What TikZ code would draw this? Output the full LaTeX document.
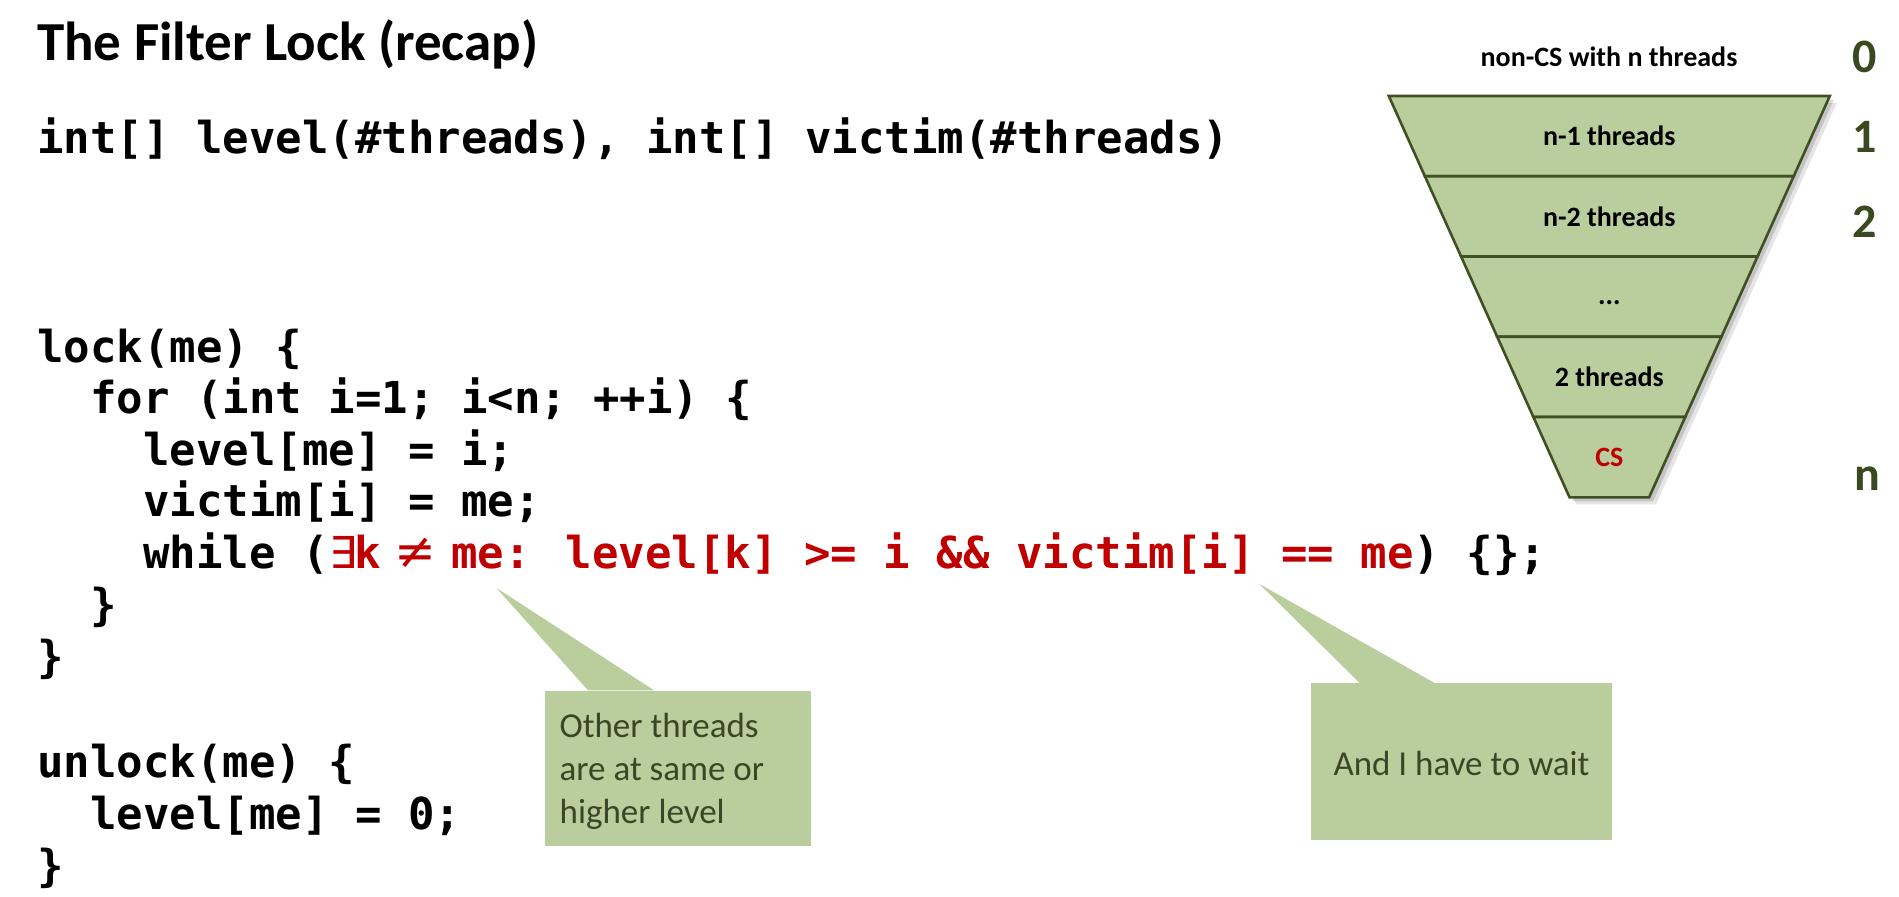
\documentclass[tikz,border=0pt]{standalone}
\usepackage{fontspec}
\setmainfont{Carlito}
\newfontfamily\codefont{DejaVu Sans Mono}
\newfontfamily\mathsymfont{DejaVu Sans}
\usetikzlibrary{calc}
\definecolor{codered}{HTML}{C00000}
\definecolor{calloutfill}{RGB}{185,206,156}
\definecolor{funnelfill}{RGB}{185,206,156}
\definecolor{funneledge}{RGB}{64,80,36}
\definecolor{olivetext}{RGB}{58,70,38}
\definecolor{levelnum}{RGB}{58,74,30}
\begin{document}
\begin{tikzpicture}[x=1pt,y=-1pt,
  code/.style={anchor=base west, inner sep=0pt, font=\codefont\bfseries\fontsize{44}{52}\selectfont},
  titletext/.style={anchor=base west, inner sep=0pt, font=\bfseries\fontsize{55}{62}\selectfont},
  band/.style={fill=funnelfill, draw=funneledge, line width=2.6pt},
  bandlabel/.style={inner sep=0pt, font=\bfseries\fontsize{28}{32}\selectfont},
  levellabel/.style={inner sep=0pt, text=levelnum, font=\bfseries\fontsize{48}{52}\selectfont},
  calloutbox/.style={fill=calloutfill, inner sep=0pt},
  callouttext/.style={inner sep=0pt, text=olivetext, font=\fontsize{35}{43}\selectfont},
]
\useasboundingbox (0,0) rectangle (1899,897);
\fill[white] (0,0) rectangle (1899,897);

% ---------- title and code ----------
\node[titletext] (title) at (37,60) {The Filter Lock (recap)};
\node[code] (decl) at (37,153.3) {int[] level(\#threads), int[] victim(\#threads)};
\node[code] (lock) at (37,362) {lock(me) \{};
\node[code] (forl) at (90,413.5) {for (int i=1; i<n; ++i) \{};
\node[code] (lvl) at (143,465) {level[me] = i;};
\node[code] (vic) at (143,516.7) {victim[i] = me;};
\node[code] (whl) at (143,568.3) {while (\textcolor{codered}{\makebox[122.5pt][l]{\kern1pt{\mdseries\mathsymfont ∃}\kern-3pt k\kern14pt{\mdseries\mathsymfont\fontsize{50}{52}\selectfont ≠}}me: level[k] >= i \&\& victim[i] == me}) \{\};};
\node[code] (cla) at (90,620.2) {\}};
\node[code] (clb) at (37,672.1) {\}};
\node[code] (unl) at (37,777) {unlock(me) \{};
\node[code] (lvz) at (90,829) {level[me] = 0;};
\node[code] (clc) at (37,881) {\}};

% ---------- funnel ----------
\coordinate (l0) at (1388.8,96);    \coordinate (r0) at (1829.8,96);
\coordinate (l1) at (1424.9,176.26); \coordinate (r1) at (1793.7,176.26);
\coordinate (l2) at (1461.1,256.52); \coordinate (r2) at (1757.5,256.52);
\coordinate (l3) at (1497.2,336.78); \coordinate (r3) at (1721.4,336.78);
\coordinate (l4) at (1533.4,417.04); \coordinate (r4) at (1685.2,417.04);
\coordinate (l5) at (1569.5,497.3);  \coordinate (r5) at (1649.1,497.3);

\fill[black, opacity=0.10] ($(l0)+(7,7)$) -- ($(r0)+(7,7)$) -- ($(r5)+(7,7)$) -- ($(l5)+(7,7)$) -- cycle;
\fill[black, opacity=0.14] ($(l0)+(4,4)$) -- ($(r0)+(4,4)$) -- ($(r5)+(4,4)$) -- ($(l5)+(4,4)$) -- cycle;

\draw[band] (l0) -- (r0) -- (r1) -- (l1) -- cycle;
\draw[band] (l1) -- (r1) -- (r2) -- (l2) -- cycle;
\draw[band] (l2) -- (r2) -- (r3) -- (l3) -- cycle;
\draw[band] (l3) -- (r3) -- (r4) -- (l4) -- cycle;
\draw[band] (l4) -- (r4) -- (r5) -- (l5) -- cycle;

\node[bandlabel] (top) at (1609,56.7) {non-CS with n threads};
\node[bandlabel] (b1) at (1609.3,136.1) {n-1 threads};
\node[bandlabel] (b2) at (1609.3,216.4) {n-2 threads};
\node[bandlabel] (b3) at (1609.3,303) {...};
\node[bandlabel] (b4) at (1609.3,376.9) {2 threads};
\node[bandlabel, text=codered] (b5) at (1609.3,457.2) {CS};

\node[levellabel] (d0) at (1865,56.7) {0};
\node[levellabel] (d1) at (1865,136.7) {1};
\node[levellabel] (d2) at (1865,221.7) {2};
\node[levellabel] (dn) at (1867,478.3) {n};

% ---------- callout 1 ----------
\node[calloutbox, minimum width=266.4pt, minimum height=155.5pt] (cbox1) at (678.2,768.25) {};
\coordinate (tip1) at (496.5,588);
\fill[calloutfill] (tip1) -- ($(cbox1.north west)+(43.3,0)$) -- ($(cbox1.north west)+(109.3,0)$) -- cycle;
\node[callouttext, anchor=base west] (t1a) at (559.5,737.3) {Other threads};
\node[callouttext, anchor=base west] (t1b) at (559.5,780.3) {are at same or};
\node[callouttext, anchor=base west] (t1c) at (559.5,823.3) {higher level};

% ---------- callout 2 ----------
\node[calloutbox, minimum width=301pt, minimum height=156.7pt] (cbox2) at (1461.5,761.65) {};
\coordinate (tip2) at (1259.4,584);
\fill[calloutfill] (tip2) -- ($(cbox2.north west)+(49,0)$) -- ($(cbox2.north west)+(124,0)$) -- cycle;
\node[callouttext] (t2) at (1461.5,763.3) {And I have to wait};
\end{tikzpicture}
\end{document}
